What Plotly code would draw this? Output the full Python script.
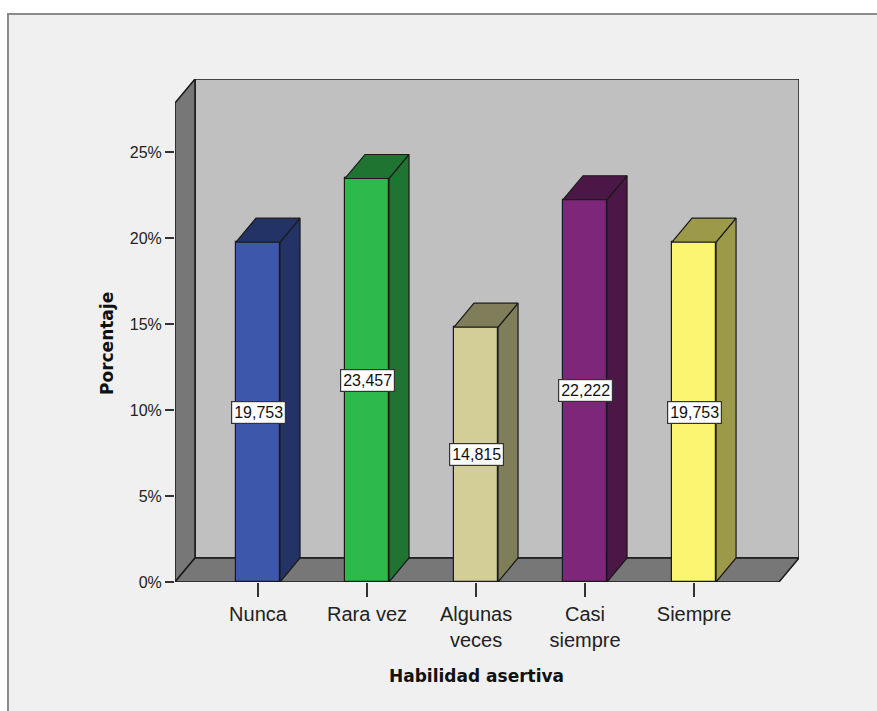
import plotly.graph_objects as go

# Frequency of each answer (percent)
categories = ["Nunca", "Rara vez", "Algunas<br>veces", "Casi<br>siempre", "Siempre"]
percentages = [19.753, 23.457, 14.815, 22.222, 19.753]
front_colors = ["#3D57AB", "#2DB94B", "#D3CE97", "#7E2679", "#FAF672"]
shade_colors = ["#243366", "#1E7430", "#807E5A", "#4B1746", "#9C9A48"]
y_ticks = [0, 5, 10, 15, 20, 25]
y_tick_labels = ["0%", "5%", "10%", "15%", "20%", "25%"]

# Canvas and plot-area geometry (pixels)
W, H = 877, 711
L, R, T, B = 175, 78, 79, 129
plot_w = W - L - R
plot_h = H - T - B

# Axis ranges
x_min, x_max = -0.7615, 4.963
y_max = 29.24
px_per_x = plot_w / (x_max - x_min)
px_per_y = plot_h / y_max

# Depth of the pseudo-3D projection, in data units
depth_px_x, depth_px_y = 20, 24
ddx = depth_px_x / px_per_x
ddy = depth_px_y / px_per_y
x_front_right = x_max - ddx
bar_width = 0.404


def paper_x(px):
    return (px - L) / plot_w


def paper_y(py):
    return (H - B - py) / plot_h


fig = go.Figure()

# Front faces of the bars
fig.add_trace(go.Bar(
    x=list(range(len(categories))),
    y=percentages,
    width=bar_width,
    marker=dict(color=front_colors, line=dict(color="#1a1a1a", width=1.2)),
    hoverinfo="skip",
    showlegend=False,
))

# Side and top faces of each bar
for i, v in enumerate(percentages):
    xl = i - bar_width / 2
    xr = i + bar_width / 2
    side_x = [xr, xr, xr + ddx, xr + ddx, xr]
    side_y = [0, v, v + ddy, ddy, 0]
    top_x = [xl, xr, xr + ddx, xl + ddx, xl]
    top_y = [v, v, v + ddy, v + ddy, v]
    for fx, fy in ((side_x, side_y), (top_x, top_y)):
        fig.add_trace(go.Scatter(
            x=fx, y=fy, mode="lines", fill="toself",
            fillcolor=shade_colors[i],
            line=dict(color="#1a1a1a", width=1.2),
            hoverinfo="skip", showlegend=False,
        ))

# Value labels at mid-height of each bar
for i, v in enumerate(percentages):
    fig.add_annotation(
        x=i, y=v / 2, xref="x", yref="y",
        text=f"{v:.3f}".replace(".", ","),
        showarrow=False, xanchor="center", yanchor="middle",
        bgcolor="white", bordercolor="#333333", borderwidth=1.2, borderpad=2,
        font=dict(family="Liberation Sans, Arial", size=16, color="#111111"),
    )

# Walls and floor of the chart box
wall_line = dict(color="#1a1a1a", width=1.5)
shapes = [
    # outer frame
    dict(type="rect", xref="paper", yref="paper",
         x0=paper_x(8), x1=paper_x(W + 20), y0=paper_y(H + 20), y1=paper_y(14),
         fillcolor="#F0F0F0", line=dict(color="#8a8a8a", width=2), layer="below"),
    # back wall
    dict(type="rect", xref="x", yref="y",
         x0=x_min + ddx, x1=x_max, y0=ddy, y1=y_max,
         fillcolor="#C0C0C0", line=wall_line, layer="below"),
    # left wall
    dict(type="path", xref="x", yref="y",
         path=f"M {x_min},0 L {x_min},{y_max - ddy} L {x_min + ddx},{y_max} "
              f"L {x_min + ddx},{ddy} Z",
         fillcolor="#777777", line=wall_line, layer="below"),
    # floor
    dict(type="path", xref="x", yref="y",
         path=f"M {x_min},0 L {x_front_right},0 L {x_max},{ddy} "
              f"L {x_min + ddx},{ddy} Z",
         fillcolor="#777777", line=wall_line, layer="below"),
]

# Axis titles
fig.add_annotation(
    x=paper_x(107), y=paper_y(344), xref="paper", yref="paper",
    xanchor="center", yanchor="middle",
    text="<b>Porcentaje</b>", textangle=-90, showarrow=False,
    font=dict(family="DejaVu Sans", size=17, color="#111111"),
)
fig.add_annotation(
    x=paper_x(476), y=paper_y(676), xref="paper", yref="paper",
    xanchor="center", yanchor="middle",
    text="<b>Habilidad asertiva</b>", showarrow=False,
    font=dict(family="DejaVu Sans", size=17, color="#111111"),
)

fig.update_layout(
    width=W, height=H,
    margin=dict(l=L, r=R, t=T, b=B, pad=0),
    paper_bgcolor="white",
    plot_bgcolor="rgba(0,0,0,0)",
    shapes=shapes,
    xaxis=dict(
        range=[x_min, x_max], tickmode="array",
        tickvals=list(range(len(categories))), ticktext=categories,
        ticks="outside", ticklen=14, tickwidth=1.5, tickcolor="#333333",
        tickfont=dict(family="Liberation Sans, Arial", size=20, color="#222222"),
        showgrid=False, zeroline=False, showline=False, fixedrange=True,
    ),
    yaxis=dict(
        range=[0, y_max], tickmode="array",
        tickvals=y_ticks, ticktext=y_tick_labels,
        ticks="outside", ticklen=9, tickwidth=1.5, tickcolor="#333333",
        tickfont=dict(family="Liberation Sans, Arial", size=16, color="#222222"),
        showgrid=False, zeroline=False, showline=False, fixedrange=True,
    ),
    bargap=0,
)

fig.write_html("out.html")
